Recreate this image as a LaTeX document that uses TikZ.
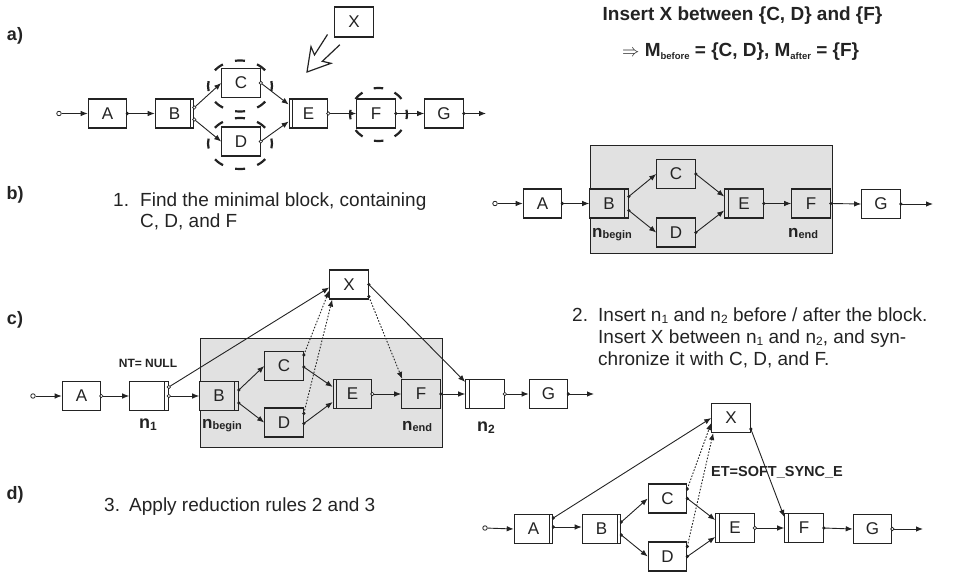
\documentclass[tikz,border=0pt]{standalone}
\usepackage{fontspec}
\setmainfont{Liberation Sans}
\usetikzlibrary{arrows.meta,calc}
\definecolor{blockgray}{RGB}{225,225,225}
\definecolor{ink}{RGB}{35,35,35}
\newcommand\ConnF[3][]{\draw[conn,#1] (#2) -- (#3); \fill[ink] (#2) circle (1.8pt);}
\newcommand\ConnO[3][]{\draw[conn,#1] (#2) -- (#3); \filldraw[draw=ink,fill=white,line width=0.7pt] (#2) circle (1.7pt);}
\newcommand\tsub[1]{{\fontsize{12}{12}\selectfont\raisebox{-2.5pt}{#1}}}
\newcommand\ssub[1]{{\fontsize{11}{11}\selectfont\raisebox{-1.5pt}{#1}}}
\newcommand\msub[1]{{\fontsize{9.5}{10}\selectfont\raisebox{-3pt}{#1}}}
\tikzset{
 box/.style={draw=ink, line width=1.1pt, minimum width=38.5pt, minimum height=29pt, inner sep=0pt, fill=white, font=\fontsize{17}{20}\selectfont, text=ink},
 gbox/.style={box, fill=blockgray},
 rbar/.style={path picture={\draw[ink,line width=0.9pt] ([xshift=-3.5pt]path picture bounding box.north east) -- ([xshift=-3.5pt]path picture bounding box.south east);}},
 lbar/.style={path picture={\draw[ink,line width=0.9pt] ([xshift=3.5pt]path picture bounding box.north west) -- ([xshift=3.5pt]path picture bounding box.south west);}},
 conn/.style={draw=ink, line width=0.9pt, -{Latex[length=7pt,width=5.5pt]}},
 sync/.style={dash pattern=on 1.6pt off 1.6pt},
 startc/.style={draw=ink, circle, fill=white, inner sep=0pt, minimum size=4.5pt, line width=0.8pt},
 lbl/.style={font=\fontsize{18}{20}\selectfont\bfseries, text=ink},
 body/.style={font=\fontsize{19}{22}\selectfont, text=ink, anchor=base west, inner sep=0pt},
 selC/.style={draw=ink, line width=2.2pt, dash pattern=on 10pt off 12.65pt, dash phase=5pt},
 selF/.style={draw=ink, line width=2.2pt, dash pattern=on 9.5pt off 12.1pt, dash phase=4.75pt},
 region/.style={draw=ink, line width=1.4pt, fill=blockgray, anchor=north west, inner sep=0pt},
 nlab/.style={font=\fontsize{17}{20}\selectfont\bfseries, text=ink, anchor=base west, inner sep=0pt},
}
\begin{document}
\begin{tikzpicture}[x=1pt,y=-1pt]
\useasboundingbox (0,0) rectangle (955,572);

% ---------- labels a) b) c) d)
\node[lbl] (la) at (15,36) {a)};
\node[lbl] (lb) at (15,195) {b)};
\node[lbl] (lc) at (15,320) {c)};
\node[lbl] (ld) at (15,495) {d)};

% ---------- top right text
\node[font=\fontsize{19}{22}\selectfont\bfseries, text=ink, anchor=base, inner sep=0pt] (ins) at (742.5,21) {Insert X between \{C, D\} and \{F\}};
\node[font=\fontsize{19}{22}\selectfont\bfseries, text=ink, anchor=base west, inner sep=0pt] (mset) at (622,57) {$\Rightarrow$\ M\msub{before} = \{C, D\}, M\msub{after} = \{F\}};

% ---------- panel a
\node[startc] (sa) at (59,113.5) {};
\node[box] (aA) at (107.5,113.5) {A};
\node[box,rbar] (aB) at (174.5,113.5) {B};
\node[box] (aC) at (241,83) {C};
\node[box] (aD) at (241,141.5) {D};
\node[box,lbar] (aE) at (308.5,113.5) {E};
\node[box] (aF) at (376,113.5) {F};
\node[box] (aG) at (444,113.5) {G};
\coordinate (aout) at (486,113.5);
\node[box, minimum height=30pt] (aX) at (354,22) {X};
\draw[conn] (sa) -- (aA.west);
\ConnF{aA.east}{aB.west}
\ConnO{[yshift=6pt]aB.east}{aC.west}
\ConnO{[yshift=-6pt]aB.east}{aD.west}
\ConnO{aC.east}{[yshift=9pt]aE.west}
\ConnO{aD.east}{[yshift=-8pt]aE.west}
\ConnO{aE.east}{aF.west}
\ConnF{aF.east}{aG.west}
\ConnF{aG.east}{aout}
\draw[selC] (240,86) ellipse [x radius=32pt, y radius=25.5pt];
\draw[selC] (240,143.5) ellipse [x radius=32pt, y radius=25.5pt];
\draw[selF] (378.5,114.5) ellipse [x radius=28.5pt, y radius=26.5pt];
\draw[ink, line width=1.2pt, line join=miter] (327.5,34.5) -- (314.5,54.9) -- (311,46.7) -- (307,72) -- (331,63.3) -- (322.3,61.3) -- (339.9,44.7);

% ---------- panel b
\node[body] (t1a) at (113,207) {1.};
\node[body] (t1b) at (140,207) {Find the minimal block, containing};
\node[body] (t1c) at (140,227) {C, D, and F};
\node[region, minimum width=242pt, minimum height=108pt] (bblock) at (590,145) {};
\node[startc] (sb) at (495,203.5) {};
\node[box] (bA) at (542.5,203.5) {A};
\node[gbox,rbar] (bB) at (609,203.5) {B};
\node[gbox] (bC) at (676,174) {C};
\node[gbox] (bD) at (676,232.5) {D};
\node[gbox,lbar] (bE) at (744,203.5) {E};
\node[gbox] (bF) at (811,203.5) {F};
\node[box] (bG) at (881,204) {G};
\coordinate (bout) at (933,204);
\draw[conn] (sb) -- (bA.west);
\ConnF{bA.east}{bB.west}
\ConnF{[yshift=7pt]bB.east}{bC.west}
\ConnF{[yshift=-7pt]bB.east}{bD.west}
\ConnF{bC.east}{[yshift=7pt]bE.west}
\ConnF{bD.east}{[yshift=-7pt]bE.west}
\ConnF{bE.east}{bF.west}
\ConnF{bF.east}{bG.west}
\ConnF{bG.east}{bout}
\node[nlab] (bnb) at (592,237) {n\ssub{begin}};
\node[nlab] (bne) at (788,237) {n\ssub{end}};

% ---------- panel c
\node[body] (t2a) at (572,321) {2.};
\node[body] (t2b) at (598,321) {Insert n\tsub{1} and n\tsub{2} before / after the block.};
\node[body] (t2c) at (598,343) {Insert X between n\tsub{1} and n\tsub{2}, and syn-};
\node[body] (t2d) at (598,365) {chronize it with C, D, and F.};
\node[region, minimum width=242pt, minimum height=109pt] (cblock) at (200,338) {};
\node[startc] (sc) at (33,396) {};
\node[box] (cA) at (81.5,396) {A};
\node[box,rbar] (cN1) at (149,396) {};
\node[gbox,rbar] (cB) at (219,396) {B};
\node[gbox] (cC) at (284,366) {C};
\node[gbox] (cD) at (284,422.5) {D};
\node[gbox,lbar] (cE) at (352.5,394) {E};
\node[gbox] (cF) at (421,394) {F};
\node[box,lbar] (cN2) at (485,394) {};
\node[box] (cG) at (548.5,394) {G};
\coordinate (cout) at (594,394);
\node[box] (cX) at (349,284.5) {X};
\draw[conn] (sc) -- (cA.west);
\ConnO{cA.east}{cN1.west}
\ConnO{[yshift=9pt]cN1.east}{[yshift=-3pt]cX.west}
\ConnO{cN1.east}{cB.west}
\ConnF{[yshift=6pt]cB.east}{cC.west}
\ConnF{[yshift=-7pt]cB.east}{cD.west}
\ConnF[sync]{[yshift=11pt]cC.east}{[yshift=-6pt]cX.west}
\ConnF{[yshift=-1pt]cC.east}{[yshift=7pt]cE.west}
\ConnF[sync]{[yshift=9pt]cD.east}{[xshift=3pt]cX.south west}
\ConnF{[yshift=-1pt]cD.east}{[yshift=-8pt]cE.west}
\ConnO{cE.east}{cF.west}
\ConnF{cX.east}{[yshift=-3pt]cN2.north west}
\ConnF[sync]{[yshift=-12pt]cX.east}{[xshift=1pt]cF.north west}
\ConnF{cF.east}{cN2.west}
\ConnO{cN2.east}{cG.west}
\ConnF{cG.east}{cout}
\node[font=\fontsize{12}{14}\selectfont\bfseries, text=ink] (ntnull) at (148,363) {NT= NULL};
\node[font=\fontsize{18}{20}\selectfont\bfseries, text=ink, anchor=base, inner sep=0pt] (n1l) at (148,428) {n\tsub{1}};
\node[nlab] (cnb) at (202,428) {n\ssub{begin}};
\node[nlab] (cne) at (402,430) {n\ssub{end}};
\node[font=\fontsize{18}{20}\selectfont\bfseries, text=ink, anchor=base, inner sep=0pt] (n2l) at (486,431) {n\tsub{2}};

% ---------- panel d
\node[body] (t3a) at (104,511) {3.};
\node[body] (t3b) at (129,511) {Apply reduction rules 2 and 3};
\node[startc] (sd) at (485,528) {};
\node[box,rbar] (dA) at (533.5,529) {A};
\node[box,rbar] (dB) at (601.5,529) {B};
\node[box] (dC) at (667.5,498.5) {C};
\node[box] (dD) at (667.5,556.5) {D};
\node[box,lbar] (dE) at (735,528) {E};
\node[box,lbar] (dF) at (804,528) {F};
\node[box] (dG) at (872.5,529) {G};
\coordinate (dout) at (923,529);
\node[box] (dX) at (731,418) {X};
\draw[conn] (sd) -- (dA.west);
\ConnF{[yshift=11pt]dA.east}{dX.west}
\ConnF{[yshift=2pt]dA.east}{[yshift=2pt]dB.west}
\ConnF{[yshift=7pt]dB.east}{dC.west}
\ConnF{[yshift=-6pt]dB.east}{dD.west}
\ConnF[sync]{[yshift=9.5pt]dC.east}{[yshift=-5pt]dX.west}
\ConnF{dC.east}{[yshift=8pt]dE.west}
\ConnF[sync]{[yshift=10pt]dD.east}{[xshift=2pt]dX.south west}
\ConnF{dD.east}{[yshift=-9pt]dE.west}
\ConnF{[yshift=-11pt]dX.east}{[yshift=-4pt]dF.north west}
\ConnO{dE.east}{dF.west}
\ConnF{dF.east}{dG.west}
\ConnO{dG.east}{dout}
\node[font=\fontsize{14.5}{16}\selectfont\bfseries, text=ink] (etl) at (777,472) {ET=SOFT\_SYNC\_E};
\end{tikzpicture}
\end{document}
